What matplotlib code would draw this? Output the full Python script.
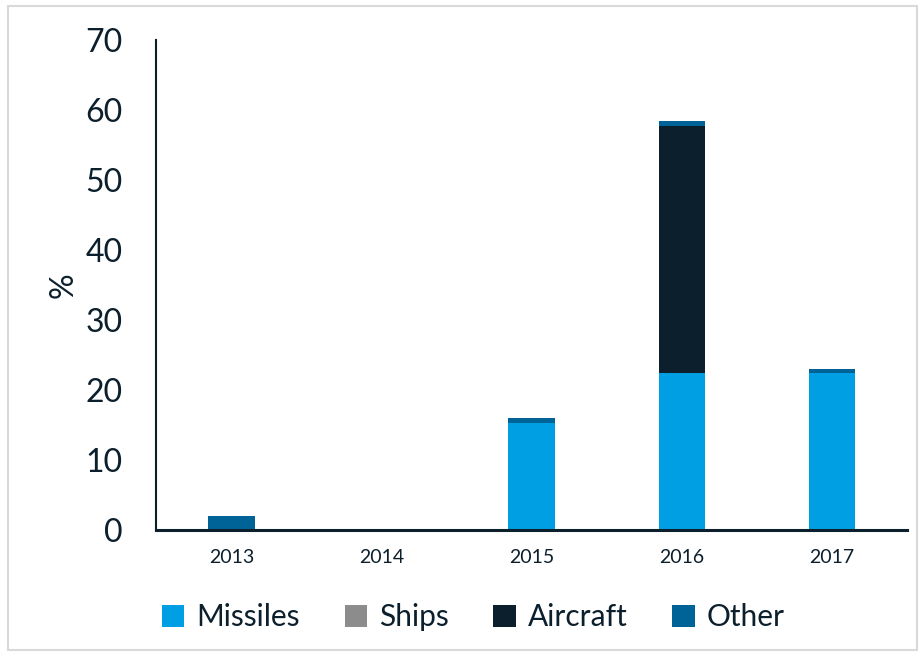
import matplotlib
matplotlib.use("Agg")
import matplotlib.pyplot as plt
from matplotlib.patches import Rectangle
import numpy as np

years = ["2013", "2014", "2015", "2016", "2017"]
missiles = [0.0, 0.0, 15.3, 22.4, 22.4]
ships = [0.0, 0.0, 0.0, 0.0, 0.0]
aircraft = [0.0, 0.0, 0.0, 35.3, 0.0]
other = [1.9, 0.0, 0.7, 0.7, 0.6]

series = [
    ("Missiles", missiles, "#009fe3"),
    ("Ships", ships, "#8c8c8c"),
    ("Aircraft", aircraft, "#0c1f2c"),
    ("Other", other, "#006397"),
]

text_color = "#0c1f2c"
plt.rcParams["font.family"] = ["Lato", "DejaVu Sans"]

fig = plt.figure(figsize=(9.19, 6.53), dpi=100)
ax = fig.add_axes([0.17, 0.189, 0.817, 0.75])

x = np.arange(len(years))
bottom = np.zeros(len(years))
handles = []
for name, vals, color in series:
    vals = np.array(vals)
    h = ax.bar(x, vals, width=0.31, bottom=bottom, color=color, label=name,
               edgecolor=color, linewidth=0)
    handles.append(h)
    bottom += vals

ax.set_xlim(-0.5, 4.5)
ax.set_ylim(0, 70)
ax.set_yticks(range(0, 71, 10))
ax.set_xticks(x)
ax.set_xticklabels(years)
ax.tick_params(axis="y", length=0, labelsize=23, colors=text_color, pad=24)
ax.tick_params(axis="x", length=0, labelsize=14, colors=text_color, pad=14)
ax.set_ylabel("%", fontsize=23, color=text_color, labelpad=5)

for s in ["top", "right"]:
    ax.spines[s].set_visible(False)
ax.spines["left"].set_color(text_color)
ax.spines["left"].set_linewidth(1.5)
ax.spines["bottom"].set_color(text_color)
ax.spines["bottom"].set_linewidth(2.2)

fig.legend(handles=handles, loc="center", bbox_to_anchor=(0.515, 0.055),
           ncol=4, frameon=False, fontsize=21.5, handlelength=0.75,
           handleheight=0.75, handletextpad=0.4, columnspacing=1.5,
           labelcolor=text_color)

# thin frame around the whole figure
fig.patches.append(Rectangle((0.009, 0.005), 0.989, 0.986, transform=fig.transFigure,
                             fill=False, edgecolor="#d9d9d9", linewidth=1.5))

fig.savefig("out.png", dpi=100)
